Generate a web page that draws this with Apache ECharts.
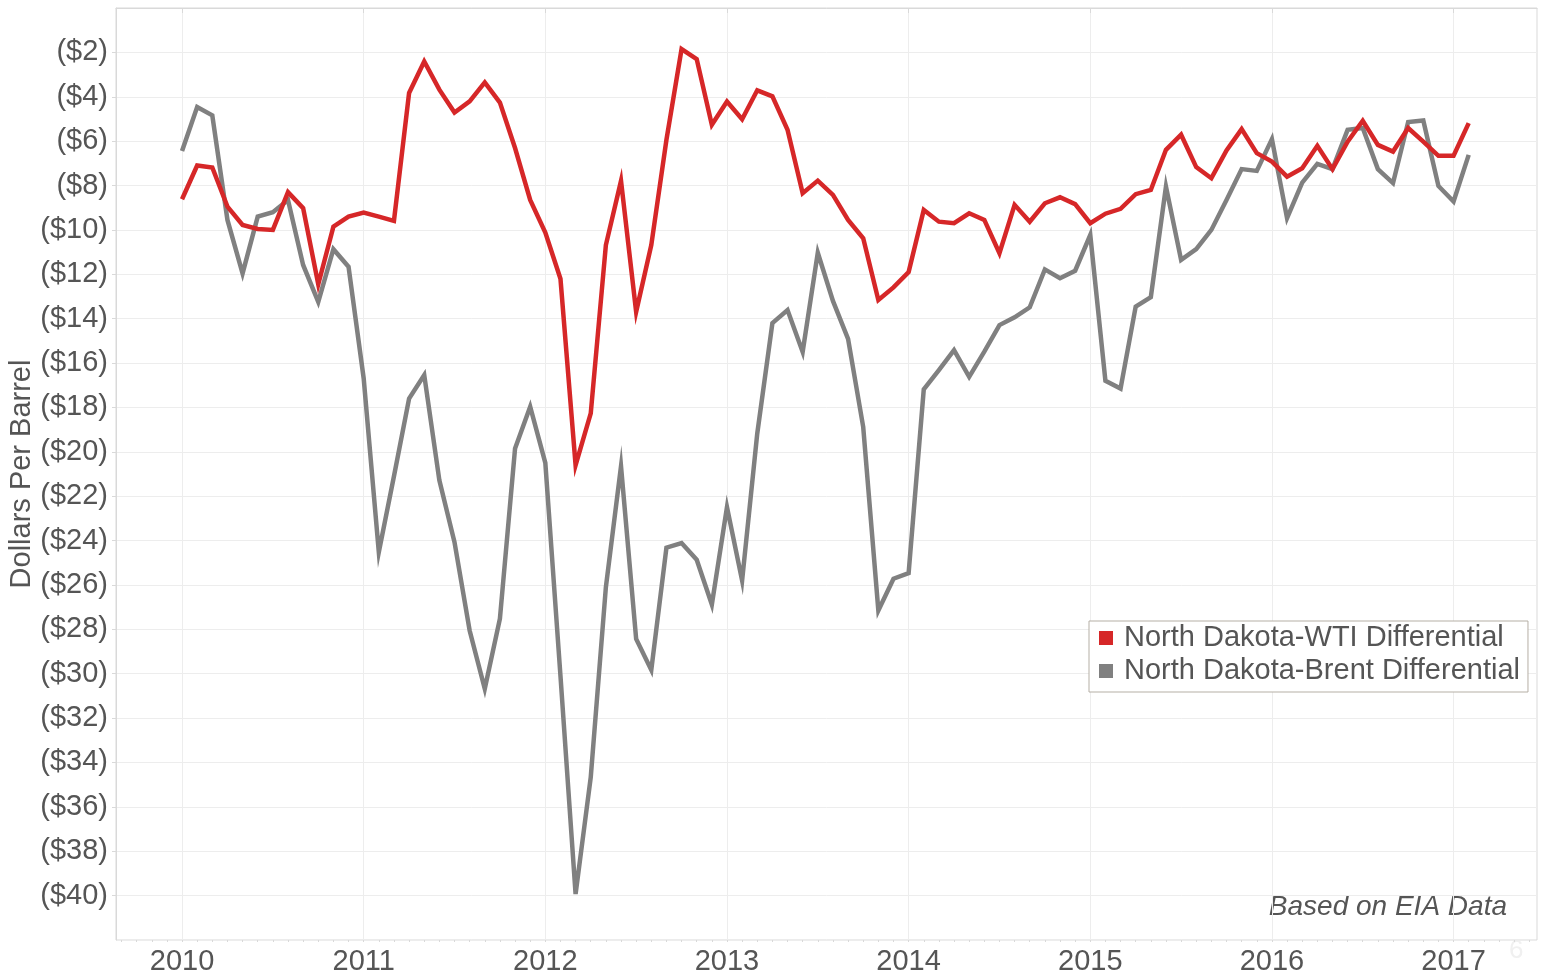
<!DOCTYPE html>
<html>
<head>
<meta charset="utf-8">
<script src="https://cdn.jsdelivr.net/npm/echarts@6/dist/echarts.min.js"></script>
<style>
html,body{margin:0;padding:0;background:#fff;}
#chart{width:1541px;height:980px;}
</style>
</head>
<body>
<div id="chart"></div>
<script>
// ---- data ----
const yearLabels = [2010, 2011, 2012, 2013, 2014, 2015, 2016, 2017];
const yTickLabels = ['($2)','($4)','($6)','($8)','($10)','($12)','($14)','($16)','($18)','($20)','($22)','($24)','($26)','($28)','($30)','($32)','($34)','($36)','($38)','($40)'];
const months = [
 '2010-01','2010-02','2010-03','2010-04','2010-05','2010-06','2010-07','2010-08','2010-09','2010-10','2010-11','2010-12',
 '2011-01','2011-02','2011-03','2011-04','2011-05','2011-06','2011-07','2011-08','2011-09','2011-10','2011-11','2011-12',
 '2012-01','2012-02','2012-03','2012-04','2012-05','2012-06','2012-07','2012-08','2012-09','2012-10','2012-11','2012-12',
 '2013-01','2013-02','2013-03','2013-04','2013-05','2013-06','2013-07','2013-08','2013-09','2013-10','2013-11','2013-12',
 '2014-01','2014-02','2014-03','2014-04','2014-05','2014-06','2014-07','2014-08','2014-09','2014-10','2014-11','2014-12',
 '2015-01','2015-02','2015-03','2015-04','2015-05','2015-06','2015-07','2015-08','2015-09','2015-10','2015-11','2015-12',
 '2016-01','2016-02','2016-03','2016-04','2016-05','2016-06','2016-07','2016-08','2016-09','2016-10','2016-11','2016-12',
 '2017-01','2017-02'
];
const wtiDiff = [
 -8.62,-7.10,-7.19,-8.95,-9.78,-9.96,-10.00,-8.30,-9.02,-12.45,-9.85,-9.40,
 -9.22,-9.40,-9.59,-3.83,-2.41,-3.68,-4.71,-4.21,-3.35,-4.26,-6.31,-8.65,
 -10.12,-12.20,-20.60,-18.27,-10.68,-7.79,-13.69,-10.68,-5.94,-1.85,-2.30,-5.26,
 -4.21,-5.01,-3.71,-3.98,-5.49,-8.35,-7.78,-8.42,-9.55,-10.38,-13.16,-12.59,
 -11.90,-9.10,-9.63,-9.70,-9.25,-9.55,-11.05,-8.87,-9.63,-8.80,-8.53,-8.84,
 -9.70,-9.27,-9.05,-8.39,-8.20,-6.39,-5.71,-7.17,-7.67,-6.42,-5.46,-6.54,
 -6.92,-7.60,-7.22,-6.21,-7.26,-6.02,-5.08,-6.17,-6.47,-5.41,-6.02,-6.66,
 -6.66,-5.19
];
const brentDiff = [
 -6.44,-4.46,-4.84,-9.55,-11.96,-9.40,-9.20,-8.65,-11.58,-13.24,-10.87,-11.66,
 -16.69,-24.52,-21.10,-17.60,-16.54,-21.28,-24.07,-28.05,-30.68,-27.52,-19.85,-17.97,
 -20.50,-30.10,-39.93,-34.67,-26.10,-20.65,-28.43,-29.83,-24.32,-24.11,-24.86,-26.88,
 -22.49,-25.80,-19.18,-14.20,-13.61,-15.50,-11.03,-13.20,-14.91,-18.88,-27.15,-25.72,
 -25.47,-17.19,-16.32,-15.42,-16.62,-15.49,-14.29,-13.94,-13.49,-11.78,-12.18,-11.84,
 -10.23,-16.80,-17.15,-13.46,-13.03,-8.05,-11.35,-10.87,-10.00,-8.65,-7.26,-7.34,
 -5.91,-9.47,-7.87,-7.02,-7.26,-5.49,-5.41,-7.26,-7.89,-5.14,-5.07,-8.02,
 -8.72,-6.62
];
const seriesNames = ['North Dakota-WTI Differential', 'North Dakota-Brent Differential'];
const sourceNote = 'Based on EIA Data';
const yAxisTitle = 'Dollars Per Barrel';

// ---- helpers ----
function toYear(m) { const p = m.split('-'); return +p[0] + (+p[1] - 1) / 12; }
const xMin = 2009.6365, xMax = 2017.4593;
const monthTicks = [];
for (let k = Math.ceil(xMin * 12); k <= Math.floor(xMax * 12); k++) monthTicks.push(k / 12);

const FONT = "'Liberation Sans', Arial, sans-serif";
const TXT = '#555555';
const GRID = '#ededed';
const AXIS = '#d9d9d9';

const chart = echarts.init(document.getElementById('chart'), null, {renderer: 'canvas'});
chart.setOption({
  animation: false,
  backgroundColor: '#ffffff',
  grid: {
    left: 116, right: 4, top: 8, bottom: 40,
    show: true, borderColor: AXIS, borderWidth: 1,
    containLabel: false, outerBoundsMode: 'none'
  },
  xAxis: [{
    type: 'value', min: xMin, max: xMax,
    axisLine: {show: true, lineStyle: {color: AXIS, width: 1}},
    axisTick: {show: true, customValues: yearLabels, length: 5, lineStyle: {color: AXIS}},
    axisLabel: {customValues: yearLabels, color: TXT, fontFamily: FONT, fontSize: 29, margin: 7,
      formatter: v => String(Math.round(v))},
    splitLine: {show: true, lineStyle: {color: GRID, width: 1}}
  }, {
    type: 'value', min: xMin, max: xMax, position: 'bottom',
    axisLine: {show: false},
    axisTick: {show: true, customValues: monthTicks, length: 2, lineStyle: {color: AXIS}},
    axisLabel: {show: false},
    splitLine: {show: false}
  }],
  yAxis: {
    type: 'value', min: -42, max: 0, interval: 2,
    name: yAxisTitle, nameLocation: 'middle', nameGap: 80, nameMoveOverlap: false,
    nameTextStyle: {color: TXT, fontFamily: FONT, fontSize: 29},
    axisLine: {show: true, lineStyle: {color: AXIS, width: 1}},
    axisTick: {show: true, length: 4, lineStyle: {color: AXIS}},
    axisLabel: {
      color: TXT, fontFamily: FONT, fontSize: 29, margin: 8,
      showMinLabel: false, showMaxLabel: false,
      formatter: v => { const i = Math.round(-v / 2) - 1; return (i >= 0 && i < yTickLabels.length) ? yTickLabels[i] : ''; }
    },
    splitLine: {show: true, lineStyle: {color: GRID, width: 1}}
  },
  legend: {
    orient: 'vertical', left: 1089, top: 621,
    data: [seriesNames[0], seriesNames[1]],
    icon: 'rect', itemWidth: 14, itemHeight: 14, itemGap: 3,
    padding: [2, 8, 6, 10],
    backgroundColor: '#ffffff', borderColor: '#b5afa5', borderWidth: 1,
    itemStyle: {borderWidth: 0},
    textStyle: {color: TXT, fontFamily: FONT, fontSize: 29, lineHeight: 30, padding: [0, 0, 0, 6]},
    selectedMode: false
  },
  graphic: [{
    type: 'text', right: 34, top: 893,
    style: {text: sourceNote, fill: TXT, font: "italic 28px 'Liberation Sans', Arial, sans-serif"}
  }, {
    type: 'text', left: 1509, top: 938,
    style: {text: '6', fill: '#f0f0f0', font: "26px 'Liberation Sans', Arial, sans-serif"}
  }],
  series: [{
    name: seriesNames[1], type: 'line', xAxisIndex: 0,
    data: months.map((m, i) => [toYear(m), brentDiff[i]]),
    showSymbol: false, symbol: 'none',
    lineStyle: {color: '#808080', width: 4.5, join: 'miter'},
    itemStyle: {color: '#808080'}, z: 2
  }, {
    name: seriesNames[0], type: 'line', xAxisIndex: 0,
    data: months.map((m, i) => [toYear(m), wtiDiff[i]]),
    showSymbol: false, symbol: 'none',
    lineStyle: {color: '#d62728', width: 4.5, join: 'miter'},
    itemStyle: {color: '#d62728'}, z: 3
  }]
});
</script>
</body>
</html>
